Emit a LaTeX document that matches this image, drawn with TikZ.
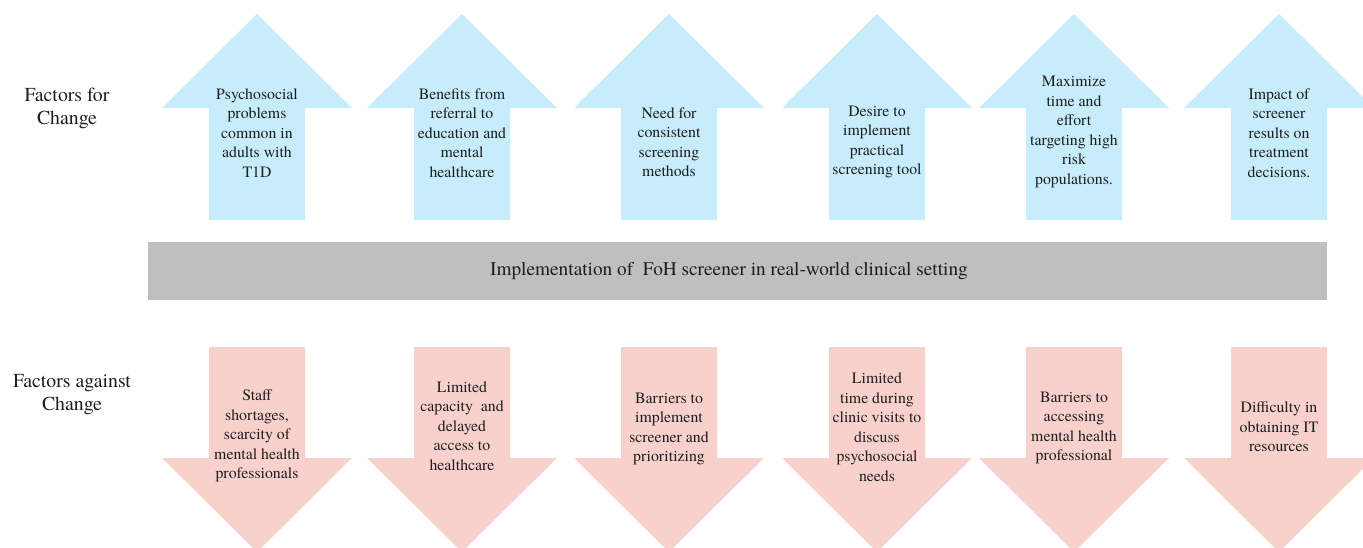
\documentclass[tikz,border=0pt]{standalone}
\usepackage{fontspec}
\setmainfont{texgyretermes}[Extension=.otf, UprightFont=*-regular,
  BoldFont=*-bold, ItalicFont=*-italic, BoldItalicFont=*-bolditalic]

\definecolor{forblue}{HTML}{C7ECFB}
\definecolor{againstpink}{HTML}{F8D1CD}
\definecolor{bargrey}{HTML}{BFBFBF}
\definecolor{inkgrey}{HTML}{1E1E1E}

\tikzset{
  factor/.style={align=center, inner sep=0pt, text=inkgrey,
    font=\fontsize{15.8}{19.5}\selectfont},
  sidelabel/.style={align=center, inner sep=0pt, text=inkgrey,
    font=\fontsize{19.8}{23}\selectfont},
}

\begin{document}
\begin{tikzpicture}[x=1pt, y=-1pt]
  \useasboundingbox (0,0) rectangle (1363,548);
  \clip (0,0) rectangle (1363,548);
  % arrows up and down
  \foreach \x in {257,462,669,877,1074,1279} {
    \fill[forblue] (\x,14) -- (\x+95,108) -- (\x+48,108) -- (\x+48,220)
      -- (\x-48,220) -- (\x-48,108) -- (\x-95,108) -- cycle;
    \fill[againstpink] (\x-48,347) -- (\x+48,347) -- (\x+48,458) -- (\x+95,458)
      -- (\x,552) -- (\x-95,458) -- (\x-48,458) -- cycle;
  }
  % middle bar
  \fill[bargrey] (148,242) rectangle (1327,300);
  \node[factor, font=\fontsize{19.3}{23}\selectfont] (impl) at (729,271)
    {Implementation of~ FoH screener in real-world clinical setting};

  \node[sidelabel] (forlabel) at (67,108) {Factors for\\Change};
  \node[sidelabel] (againstlabel) at (72,395) {Factors against\\Change};

  % factors for change
  \node[factor] (for1) at (257,133) {Psychosocial\\problems\\common in\\adults with\\T1D};
  \node[factor] (for2) at (462,133) {Benefits from\\referral to\\education and\\mental\\healthcare};
  \node[factor] (for3) at (669,142) {Need for\\consistent\\screening\\methods};
  \node[factor] (for4) at (877,142) {Desire to\\implement\\practical\\screening tool};
  \node[factor] (for5) at (1074,132) {Maximize\\time and\\effort\\targeting high\\risk\\populations.};
  \node[factor] (for6) at (1279,133) {Impact of\\screener\\results on\\treatment\\decisions.};

  % factors against change
  \node[factor] (against1) at (257,436) {Staff\\shortages,\\scarcity of\\mental health\\professionals};
  \node[factor] (against2) at (462,426) {Limited\\capacity~ and\\delayed\\access to\\healthcare};
  \node[factor] (against3) at (669,429) {Barriers to\\implement\\screener and\\prioritizing};
  \node[factor] (against4) at (877,427) {Limited\\time during\\clinic visits to\\discuss\\psychosocial\\needs};
  \node[factor] (against5) at (1074,428) {Barriers to\\accessing\\mental health\\professional};
  \node[factor] (against6) at (1279,427) {Difficulty in\\obtaining IT\\resources};
\end{tikzpicture}
\end{document}
